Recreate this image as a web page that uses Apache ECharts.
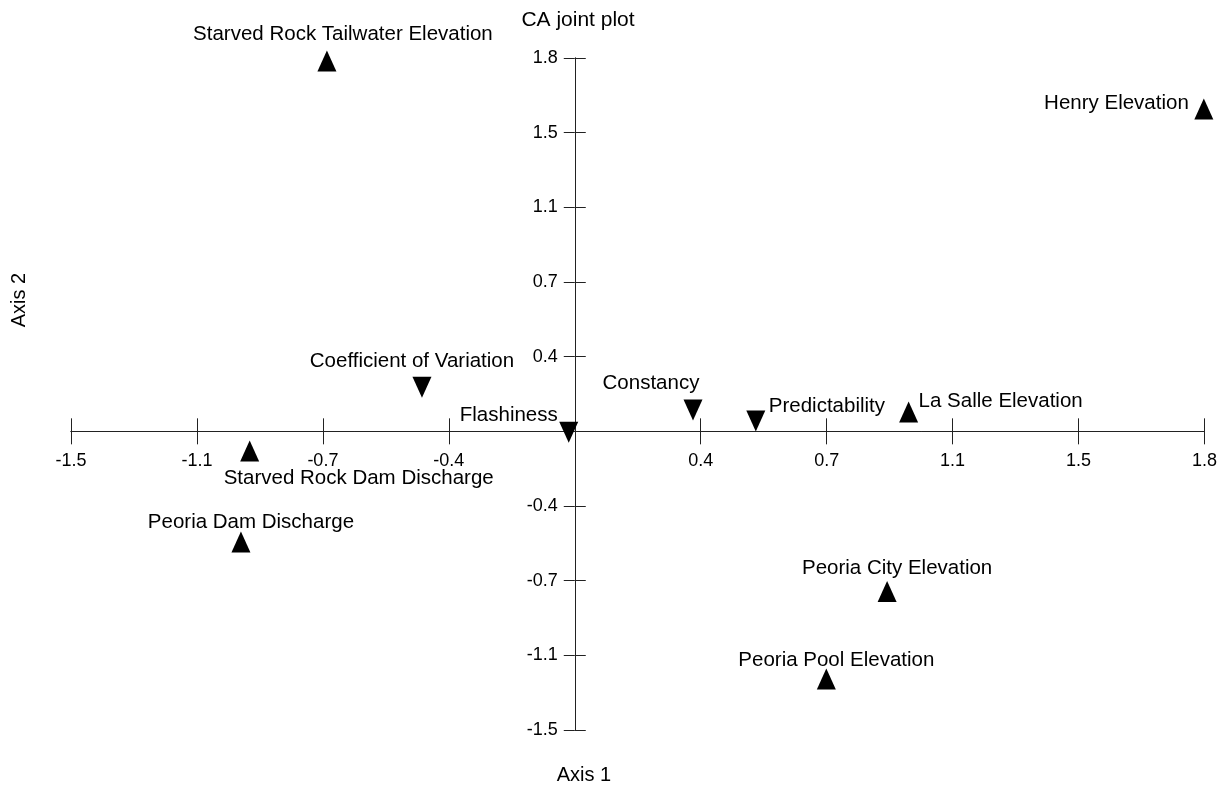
<!DOCTYPE html>
<html>
<head>
<meta charset="utf-8">
<title>CA joint plot</title>
<script src="https://cdn.jsdelivr.net/npm/echarts@6/dist/echarts.min.js"></script>
<style>
  html, body { margin: 0; padding: 0; background: #fff; }
  #chart { width: 1229px; height: 787px; }
</style>
</head>
<body>
<div id="chart"></div>
<script>
// Gauging stations (upward triangles): CA scores on Axis 1 / Axis 2
const siteNames = [
  'Starved Rock Tailwater Elevation',
  'Henry Elevation',
  'La Salle Elevation',
  'Starved Rock Dam Discharge',
  'Peoria Dam Discharge',
  'Peoria City Elevation',
  'Peoria Pool Elevation'
];
const siteAxis1 = [-0.738, 1.873, 0.994, -0.968, -0.994, 0.930, 0.749];
const siteAxis2 = [1.860, 1.619, 0.097, -0.099, -0.556, -0.805, -1.244];

// Hydrologic indices (downward triangles)
const indexNames = ['Coefficient of Variation', 'Constancy', 'Flashiness', 'Predictability'];
const indexAxis1 = [-0.455, 0.352, -0.018, 0.539];
const indexAxis2 = [0.222, 0.107, -0.005, 0.052];

// Tick labels, one per tick from the axis minimum upward (origin left blank)
const xTickLabels = ['-1.5', '-1.1', '-0.7', '-0.4', '', '0.4', '0.7', '1.1', '1.5', '1.8'];
const yTickLabels = ['-1.5', '-1.1', '-0.7', '-0.4', '', '0.4', '0.7', '1.1', '1.5', '1.8'];

// Axis extent shared by both dimensions
const axisMin = -1.5;
const axisStep = 0.375;
const axisMax = 1.875;

// Label placement next to each marker: [align, dx, dy]
const siteLabelPlacement = [
  ['center', 16, -27],
  ['right', -15, -6],
  ['left', 10, -11],
  ['center', 109, 27],
  ['center', 10, -20],
  ['center', 10, -23],
  ['center', 10, -19]
];
const indexLabelPlacement = [
  ['center', -10, -26],
  ['center', -42, -27],
  ['right', -11, -17],
  ['left', 13, -15]
];

const FONT = '"Liberation Sans", Arial, Helvetica, sans-serif';
const LINE = '#222';

// Plot box in pixels
const W = 1229, H = 787;
const gridLeft = 71, gridRight = 24.5, gridTop = 58, gridBottom = 57;
const plotW = W - gridLeft - gridRight;
const plotH = H - gridTop - gridBottom;

// Where the origin falls inside the plot box; the axes are shifted there
const zeroX = gridLeft + plotW * (0 - axisMin) / (axisMax - axisMin);
const zeroY = gridTop + plotH * (axisMax - 0) / (axisMax - axisMin);

function tickLabel(list) {
  return function (v) {
    const i = Math.round((v - axisMin) / axisStep);
    return list[i] !== undefined ? list[i] : '';
  };
}

function buildPoints(names, xs, ys, placement) {
  return names.map(function (n, i) {
    const p = placement[i];
    return {
      name: n,
      value: [xs[i], ys[i]],
      label: { align: p[0], offset: [p[1], p[2]] }
    };
  });
}

function xAxisDef(position, showLabels, offset) {
  return {
    type: 'value',
    position: position,
    offset: offset,
    min: axisMin,
    max: axisMax,
    interval: axisStep,
    axisLine: { show: true, onZero: false, lineStyle: { color: LINE, width: 1 } },
    axisTick: { show: true, inside: false, length: 13, lineStyle: { color: LINE, width: 1 } },
    axisLabel: {
      show: showLabels, margin: 21, color: '#000', fontSize: 18, fontFamily: FONT,
      showMinLabel: true, showMaxLabel: true, formatter: tickLabel(xTickLabels)
    },
    splitLine: { show: false }
  };
}

function yAxisDef(position, showLabels, offset) {
  return {
    type: 'value',
    position: position,
    offset: offset,
    min: axisMin,
    max: axisMax,
    interval: axisStep,
    axisLine: { show: true, onZero: false, lineStyle: { color: LINE, width: 1 } },
    axisTick: { show: true, inside: false, length: 11, lineStyle: { color: LINE, width: 1 } },
    axisLabel: {
      show: showLabels, margin: 17, color: '#000', fontSize: 18, fontFamily: FONT,
      padding: [9, 0, 0, 0],
      showMinLabel: true, showMaxLabel: true, formatter: tickLabel(yTickLabels)
    },
    splitLine: { show: false }
  };
}

const pointLabel = {
  show: true,
  position: 'inside',
  formatter: '{b}',
  color: '#000',
  opacity: 1,
  fontSize: 20.5,
  fontFamily: FONT,
  textBorderWidth: 0
};

const chart = echarts.init(document.getElementById('chart'), null, { renderer: 'canvas' });

chart.setOption({
  animation: false,
  backgroundColor: '#fff',
  title: {
    text: 'CA joint plot',
    left: 578,
    top: 10,
    padding: 0,
    textAlign: 'center',
    textStyle: { color: '#000', fontSize: 21, fontWeight: 'normal', fontFamily: FONT }
  },
  grid: {
    left: gridLeft,
    right: gridRight,
    top: gridTop,
    bottom: gridBottom,
    containLabel: false,
    outerBoundsMode: 'none'
  },
  xAxis: [
    // labelled axis: ticks pointing down, moved up from the bottom edge to y = 0
    xAxisDef('bottom', true, -(H - gridBottom - zeroY)),
    // companion axis: ticks pointing up, moved down from the top edge to y = 0
    xAxisDef('top', false, -(zeroY - gridTop))
  ],
  yAxis: [
    yAxisDef('left', true, -(zeroX - gridLeft)),
    yAxisDef('right', false, -(W - gridRight - zeroX))
  ],
  graphic: [
    {
      type: 'text',
      x: 584,
      y: 775,
      style: { text: 'Axis 1', fill: '#000', font: '20px ' + FONT, align: 'center', verticalAlign: 'middle' }
    },
    {
      type: 'text',
      x: 19,
      y: 300,
      rotation: Math.PI / 2,
      style: { text: 'Axis 2', fill: '#000', font: '20px ' + FONT, align: 'center', verticalAlign: 'middle' }
    }
  ],
  series: [
    {
      name: 'Stations',
      type: 'scatter',
      xAxisIndex: 0,
      yAxisIndex: 0,
      clip: false,
      symbol: 'triangle',
      symbolSize: [19, 21],
      itemStyle: { color: '#000', opacity: 1 },
      label: pointLabel,
      emphasis: { disabled: true },
      data: buildPoints(siteNames, siteAxis1, siteAxis2, siteLabelPlacement)
    },
    {
      name: 'Indices',
      type: 'scatter',
      xAxisIndex: 0,
      yAxisIndex: 0,
      clip: false,
      symbol: 'triangle',
      symbolRotate: 180,
      symbolSize: [19, 21],
      itemStyle: { color: '#000', opacity: 1 },
      label: pointLabel,
      emphasis: { disabled: true },
      data: buildPoints(indexNames, indexAxis1, indexAxis2, indexLabelPlacement)
    }
  ]
});
</script>
</body>
</html>
